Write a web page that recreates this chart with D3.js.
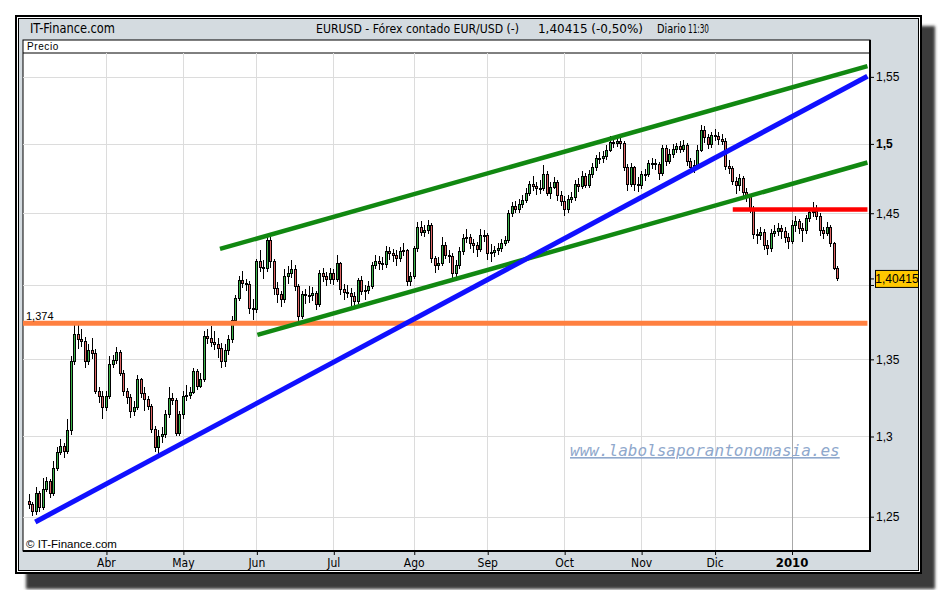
<!DOCTYPE html>
<html>
<head>
<meta charset="utf-8">
<script src="https://cdn.jsdelivr.net/npm/d3@7"></script>
<style>
    body { margin: 0; background: #fff; }
    svg text { font-family: "Liberation Sans", Arial, sans-serif; }
    .narrow { font-family: "Liberation Sans Narrow", "Arial Narrow", "DejaVu Sans", sans-serif; font-stretch: condensed; }
</style>
</head>
<body>
<div id="chart"></div>
<script>
// EURUSD daily candles, 2 Mar 2009 .. 21 Jan 2010 (weekdays)
const startDate = '2009-03-02';
const endDate = '2010-01-21';
const holidays = ['2009-12-25', '2010-01-01'];
const firstOpen = 1.2595;

const closes = [
    1.2575, 1.2530, 1.2640, 1.2555, 1.2665, 1.2720, 1.2640, 1.2800, 1.2900, 1.2935,
    1.2905, 1.3040, 1.3485, 1.3662, 1.3629, 1.3620, 1.3485, 1.3560, 1.3540, 1.3288,
    1.3255, 1.3187, 1.3255, 1.3463, 1.3492, 1.3545, 1.3408, 1.3288, 1.3250, 1.3159,
    1.3187, 1.3369, 1.3277, 1.3235, 1.3191, 1.3046, 1.2931, 1.3000, 1.3013, 1.3138,
    1.3245, 1.3230, 1.3020, 1.3138, 1.3259, 1.3266, 1.3281, 1.3419, 1.3322, 1.3370,
    1.3650, 1.3635, 1.3610, 1.3600, 1.3575, 1.3485, 1.3560, 1.3629, 1.3762, 1.3911,
    1.4034, 1.4012, 1.4005, 1.3842, 1.3830, 1.4160, 1.4120, 1.4110, 1.4311, 1.4160,
    1.3973, 1.3932, 1.3902, 1.4057, 1.4080, 1.4107, 1.3988, 1.3785, 1.3932, 1.3925,
    1.3930, 1.3945, 1.3864, 1.4076, 1.4060, 1.4040, 1.4080, 1.4040, 1.4149, 1.3966,
    1.3950, 1.3945, 1.3920, 1.3886, 1.4029, 1.3956, 1.3960, 1.3990, 1.4137, 1.4165,
    1.4150, 1.4140, 1.4230, 1.4215, 1.4205, 1.4185, 1.4230, 1.4240, 1.4022, 1.4060,
    1.4252, 1.4401, 1.4366, 1.4380, 1.4410, 1.4184, 1.4137, 1.4150, 1.4273, 1.4206,
    1.4195, 1.4080, 1.4137, 1.4229, 1.4322, 1.4330, 1.4287, 1.4270, 1.4245, 1.4346,
    1.4340, 1.4218, 1.4225, 1.4235, 1.4250, 1.4290, 1.4310, 1.4495, 1.4545, 1.4530,
    1.4560, 1.4590, 1.4640, 1.4705, 1.4690, 1.4675, 1.4680, 1.4780, 1.4640, 1.4685,
    1.4720, 1.4625, 1.4585, 1.4530, 1.4600, 1.4610, 1.4705, 1.4690, 1.4760, 1.4700,
    1.4775, 1.4825, 1.4890, 1.4895, 1.4905, 1.4955, 1.5010, 1.5005, 1.5015, 1.5000,
    1.4830, 1.4705, 1.4830, 1.4705, 1.4700, 1.4774, 1.4780, 1.4855, 1.4860, 1.4850,
    1.4785, 1.4965, 1.4870, 1.4920, 1.4960, 1.4980, 1.4960, 1.4990, 1.4870, 1.4830,
    1.4840, 1.4955, 1.5100, 1.5045, 1.4993, 1.5060, 1.5055, 1.5030, 1.5020, 1.4835,
    1.4820, 1.4730, 1.4700, 1.4745, 1.4645, 1.4620, 1.4528, 1.4347, 1.4340, 1.4365,
    1.4270, 1.4252, 1.4358, 1.4370, 1.4390, 1.4370, 1.4330, 1.4300, 1.4415, 1.4440,
    1.4395, 1.4380, 1.4460, 1.4505, 1.4510, 1.4480, 1.4380, 1.4360, 1.4400, 1.4285,
    1.4115, 1.40415
];

const highs = [
    1.2640, 1.2590, 1.2685, 1.2660, 1.2740, 1.2745, 1.2735, 1.2845, 1.2935, 1.2985,
    1.2960, 1.3110, 1.3520, 1.3740, 1.3735, 1.3700, 1.3650, 1.3600, 1.3640, 1.3570,
    1.3320, 1.3290, 1.3290, 1.3520, 1.3530, 1.3585, 1.3560, 1.3430, 1.3310, 1.3270,
    1.3230, 1.3400, 1.3380, 1.3320, 1.3260, 1.3210, 1.3070, 1.3040, 1.3060, 1.3170,
    1.3320, 1.3280, 1.3245, 1.3160, 1.3290, 1.3330, 1.3320, 1.3440, 1.3435, 1.3410,
    1.3690, 1.3700, 1.3720, 1.3690, 1.3640, 1.3610, 1.3600, 1.3660, 1.3790, 1.3930,
    1.4060, 1.4095, 1.4040, 1.4030, 1.3905, 1.4180, 1.4240, 1.4170, 1.4340, 1.4330,
    1.4180, 1.4020, 1.3960, 1.4110, 1.4130, 1.4170, 1.4140, 1.4010, 1.3960, 1.3975,
    1.3990, 1.3985, 1.3960, 1.4100, 1.4120, 1.4090, 1.4120, 1.4110, 1.4210, 1.4160,
    1.4010, 1.4000, 1.3980, 1.3950, 1.4050, 1.4060, 1.4000, 1.4030, 1.4160, 1.4210,
    1.4200, 1.4190, 1.4270, 1.4260, 1.4250, 1.4240, 1.4265, 1.4290, 1.4250, 1.4090,
    1.4270, 1.4440, 1.4445, 1.4420, 1.4450, 1.4430, 1.4200, 1.4190, 1.4330, 1.4300,
    1.4240, 1.4220, 1.4170, 1.4260, 1.4350, 1.4390, 1.4350, 1.4320, 1.4300, 1.4390,
    1.4380, 1.4360, 1.4280, 1.4270, 1.4290, 1.4320, 1.4340, 1.4520, 1.4580, 1.4590,
    1.4600, 1.4630, 1.4680, 1.4730, 1.4770, 1.4720, 1.4740, 1.4845, 1.4800, 1.4720,
    1.4760, 1.4740, 1.4660, 1.4620, 1.4630, 1.4650, 1.4740, 1.4750, 1.4800, 1.4790,
    1.4810, 1.4860, 1.4920, 1.4940, 1.4950, 1.4990, 1.5060, 1.5050, 1.5060, 1.5040,
    1.5020, 1.4850, 1.4860, 1.4840, 1.4760, 1.4800, 1.4820, 1.4880, 1.4900, 1.4890,
    1.4870, 1.4990, 1.4990, 1.4960, 1.5000, 1.5010, 1.5020, 1.5030, 1.5010, 1.4900,
    1.4880, 1.4990, 1.5140, 1.5130, 1.5070, 1.5090, 1.5110, 1.5090, 1.5070, 1.5040,
    1.4880, 1.4840, 1.4760, 1.4780, 1.4770, 1.4680, 1.4640, 1.4550, 1.4390, 1.4400,
    1.4390, 1.4310, 1.4390, 1.4420, 1.4430, 1.4420, 1.4400, 1.4360, 1.4450, 1.4480,
    1.4460, 1.4430, 1.4490, 1.4540, 1.4580, 1.4560, 1.4500, 1.4400, 1.4440, 1.4420,
    1.4300, 1.4130
];

const lows = [
    1.2545, 1.2505, 1.2510, 1.2530, 1.2540, 1.2650, 1.2615, 1.2630, 1.2780, 1.2880,
    1.2865, 1.2890, 1.3010, 1.3460, 1.3570, 1.3580, 1.3440, 1.3460, 1.3500, 1.3270,
    1.3215, 1.3110, 1.3160, 1.3240, 1.3440, 1.3470, 1.3390, 1.3260, 1.3210, 1.3120,
    1.3130, 1.3170, 1.3250, 1.3160, 1.3170, 1.3020, 1.2900, 1.2890, 1.2960, 1.2990,
    1.3120, 1.3200, 1.3000, 1.3000, 1.3110, 1.3230, 1.3240, 1.3270, 1.3300, 1.3310,
    1.3350, 1.3600, 1.3580, 1.3560, 1.3510, 1.3440, 1.3450, 1.3530, 1.3610, 1.3740,
    1.3890, 1.3980, 1.3960, 1.3800, 1.3760, 1.3810, 1.4090, 1.4040, 1.4090, 1.4120,
    1.3930, 1.3880, 1.3850, 1.3880, 1.4010, 1.4050, 1.3960, 1.3750, 1.3770, 1.3870,
    1.3880, 1.3890, 1.3830, 1.3850, 1.4020, 1.3990, 1.4010, 1.4000, 1.4020, 1.3930,
    1.3900, 1.3910, 1.3860, 1.3840, 1.3870, 1.3930, 1.3900, 1.3940, 1.3970, 1.4110,
    1.4100, 1.4100, 1.4120, 1.4170, 1.4160, 1.4130, 1.4160, 1.4200, 1.3990, 1.3990,
    1.4040, 1.4230, 1.4340, 1.4330, 1.4350, 1.4150, 1.4080, 1.4100, 1.4130, 1.4180,
    1.4150, 1.4050, 1.4030, 1.4110, 1.4210, 1.4290, 1.4250, 1.4220, 1.4190, 1.4230,
    1.4300, 1.4170, 1.4160, 1.4190, 1.4210, 1.4230, 1.4270, 1.4290, 1.4470, 1.4500,
    1.4500, 1.4540, 1.4570, 1.4620, 1.4660, 1.4630, 1.4640, 1.4660, 1.4620, 1.4600,
    1.4670, 1.4590, 1.4550, 1.4480, 1.4500, 1.4570, 1.4590, 1.4650, 1.4670, 1.4680,
    1.4680, 1.4750, 1.4800, 1.4850, 1.4860, 1.4880, 1.4940, 1.4970, 1.4980, 1.4960,
    1.4800, 1.4660, 1.4690, 1.4660, 1.4650, 1.4670, 1.4730, 1.4760, 1.4820, 1.4810,
    1.4740, 1.4770, 1.4840, 1.4850, 1.4900, 1.4930, 1.4930, 1.4940, 1.4840, 1.4800,
    1.4790, 1.4820, 1.4940, 1.5010, 1.4960, 1.4970, 1.5020, 1.4990, 1.4990, 1.4810,
    1.4780, 1.4700, 1.4640, 1.4660, 1.4610, 1.4580, 1.4500, 1.4320, 1.4280, 1.4310,
    1.4240, 1.4210, 1.4230, 1.4330, 1.4340, 1.4320, 1.4290, 1.4250, 1.4280, 1.4370,
    1.4350, 1.4300, 1.4350, 1.4440, 1.4470, 1.4450, 1.4340, 1.4320, 1.4340, 1.4260,
    1.4100, 1.4030
];

// y axis ticks and Spanish month labels
const priceTicks = [1.25, 1.3, 1.35, 1.4, 1.45, 1.5, 1.55];
const monthNames = ['Ene', 'Feb', 'Mar', 'Abr', 'May', 'Jun', 'Jul', 'Ago', 'Sep', 'Oct', 'Nov', 'Dic'];

// drawn studies: [bar index, price] end points
const blueLine = [[1.8, 1.2468], [239.7, 1.5505]];
const greenUpper = [[54.6, 1.4249], [239.7, 1.5582]];
const greenLower = [[65.3, 1.3662], [239.7, 1.4864]];
const redLine = [[201.2, 1.4527], [239.7, 1.4527]];
const supportLevel = 1.374;
const supportLine = [[-2, supportLevel], [239.7, supportLevel]];
const lastPrice = 1.40415;
const lastChange = -0.50;

// build trading days
const parse = d3.utcParse('%Y-%m-%d');
const fmtDay = d3.utcFormat('%Y-%m-%d');
const dates = d3.utcDay.range(parse(startDate), d3.utcDay.offset(parse(endDate), 1))
    .filter(d => d.getUTCDay() !== 0 && d.getUTCDay() !== 6 && !holidays.includes(fmtDay(d)));

const bars = dates.map((d, i) => ({
    i: i,
    date: d,
    open: i === 0 ? firstOpen : closes[i - 1],
    close: closes[i],
    high: highs[i],
    low: lows[i]
}));

const width = 940, height = 590;
const plot = { left: 23, right: 870, top: 53, bottom: 551, header: 40 };

// Spanish number style: decimal comma, plain hyphen minus
const esLocale = d3.formatLocale({ decimal: ',', thousands: '.', grouping: [3], currency: ['', ' €'], minus: '-' });
const fmt5 = esLocale.format('.5f');
const fmt2 = esLocale.format('.2f');

const svg = d3.select('#chart').append('svg')
    .attr('width', width)
    .attr('height', height);

const defs = svg.append('defs');
defs.append('filter').attr('id', 'blur')
    .append('feGaussianBlur').attr('stdDeviation', 1.4);
defs.append('clipPath').attr('id', 'plotClip')
    .append('rect')
    .attr('x', plot.left).attr('y', plot.top)
    .attr('width', plot.right - plot.left).attr('height', plot.bottom - plot.top);

// frame + shadow
svg.append('rect')
    .attr('x', 26).attr('y', 26).attr('width', 909).attr('height', 563)
    .attr('fill', '#3a3a3a')
    .attr('filter', 'url(#blur)');
svg.append('rect')
    .attr('x', 15).attr('y', 15).attr('width', 907).attr('height', 559)
    .attr('fill', '#000');
svg.append('rect')
    .attr('x', 17).attr('y', 17).attr('width', 903).attr('height', 555)
    .attr('fill', '#fff');
svg.append('rect')
    .attr('x', 18.5).attr('y', 18.5).attr('width', 900).attr('height', 552)
    .attr('fill', '#d4dbe0')
    .attr('stroke', '#000')
    .attr('stroke-width', 1);

// header texts (squeezed to the narrow face of the original)
const header = [
    { text: 'IT-Finance.com', x: 30, len: 85, size: 14 },
    { text: 'EURUSD - Fórex contado EUR/USD (-)', x: 316, len: 203, size: 13 },
    { text: fmt5(lastPrice) + ' (' + fmt2(lastChange) + '%)', x: 538, len: 105, size: 13 },
    { text: 'Diario', x: 657, len: 29, size: 12.5 },
    { text: '11:30', x: 688, len: 21, size: 12.5 }
];
svg.selectAll('.header')
    .data(header)
    .enter()
    .append('text')
    .attr('class', 'narrow')
    .attr('x', d => d.x)
    .attr('y', 33)
    .attr('textLength', d => d.len)
    .attr('lengthAdjust', 'spacingAndGlyphs')
    .style('font-size', d => d.size + 'px')
    .text(d => d.text);

// plot box
svg.append('rect')
    .attr('x', plot.left).attr('y', plot.header)
    .attr('width', plot.right - plot.left).attr('height', plot.bottom - plot.header)
    .attr('fill', '#fff')
    .attr('stroke', '#000')
    .attr('stroke-width', 1);
svg.append('line')
    .attr('x1', plot.left).attr('x2', plot.right)
    .attr('y1', plot.top).attr('y2', plot.top)
    .attr('stroke', '#000');
svg.append('text')
    .attr('x', 27).attr('y', 50)
    .style('font-size', '10px')
    .style('letter-spacing', '0.6px')
    .text('Precio');

// scales
const xScale = d3.scaleLinear()
    .domain([0, bars.length - 1])
    .range([29, 837]);

const yScale = d3.scaleLog()
    .domain([1.2292, 1.5682])
    .range([plot.bottom, plot.top]);

// month starts
const monthTicks = bars.filter((b, i) => i > 0 && b.date.getUTCMonth() !== bars[i - 1].date.getUTCMonth());
const monthLabel = b => b.date.getUTCMonth() === 0 ? String(b.date.getUTCFullYear()) : monthNames[b.date.getUTCMonth()];

const priceFmt = d => String(+d.toFixed(3)).replace('.', ',');

// grid
const grid = svg.append('g').attr('clip-path', 'url(#plotClip)');
grid.selectAll('.hgrid')
    .data(priceTicks)
    .enter()
    .append('line')
    .attr('x1', plot.left).attr('x2', plot.right)
    .attr('y1', d => Math.round(yScale(d)) + 0.5)
    .attr('y2', d => Math.round(yScale(d)) + 0.5)
    .attr('stroke', '#dcdcdc');
grid.selectAll('.vgrid')
    .data(monthTicks)
    .enter()
    .append('line')
    .attr('x1', d => Math.round(xScale(d.i)) + 0.5)
    .attr('x2', d => Math.round(xScale(d.i)) + 0.5)
    .attr('y1', plot.top).attr('y2', plot.bottom)
    .attr('stroke', d => d.date.getUTCMonth() === 0 ? '#a8a8a8' : '#dcdcdc');

// watermark
svg.append('text')
    .attr('x', 570).attr('y', 456)
    .style('font-family', '"DejaVu Sans Mono", "Liberation Mono", monospace')
    .style('font-style', 'italic')
    .style('font-size', '16px')
    .style('text-decoration', 'underline')
    .attr('fill', '#8fa8cc')
    .text('www.labolsaporantonomasia.es');

// candles
const candles = svg.append('g')
    .attr('clip-path', 'url(#plotClip)')
    .attr('shape-rendering', 'crispEdges');
const bodyW = 2.6;

candles.selectAll('.wick')
    .data(bars)
    .enter()
    .append('line')
    .attr('x1', d => Math.round(xScale(d.i)) + 0.5)
    .attr('x2', d => Math.round(xScale(d.i)) + 0.5)
    .attr('y1', d => yScale(d.high))
    .attr('y2', d => yScale(d.low))
    .attr('stroke', '#000')
    .attr('stroke-width', 1);

candles.selectAll('.body')
    .data(bars)
    .enter()
    .append('rect')
    .attr('x', d => Math.round(xScale(d.i)) - 1)
    .attr('y', d => yScale(Math.max(d.open, d.close)))
    .attr('width', bodyW)
    .attr('height', d => Math.max(1, Math.abs(yScale(d.open) - yScale(d.close))))
    .attr('fill', d => d.close >= d.open ? '#3cb44b' : '#e06666')
    .attr('stroke', '#000')
    .attr('stroke-width', 1);

// studies
const studyLine = d3.line()
    .x(d => xScale(d[0]))
    .y(d => yScale(d[1]));

const studies = svg.append('g').attr('clip-path', 'url(#plotClip)');
[
    { pts: supportLine, color: '#ff8040', w: 5 },
    { pts: greenUpper, color: '#118811', w: 4.5 },
    { pts: greenLower, color: '#118811', w: 4.5 },
    { pts: blueLine, color: '#1010ff', w: 5 },
    { pts: redLine, color: '#ff0000', w: 4.5 }
].forEach(s => {
    studies.append('path')
        .datum(s.pts)
        .attr('d', studyLine)
        .attr('fill', 'none')
        .attr('stroke', s.color)
        .attr('stroke-width', s.w);
});

svg.append('text')
    .attr('x', 26).attr('y', yScale(supportLevel) - 3)
    .style('font-size', '11px')
    .text(priceFmt(supportLevel));

svg.append('text')
    .attr('x', 26).attr('y', 548)
    .style('font-size', '11.5px')
    .text('© IT-Finance.com');

// heavier bottom and right border
svg.append('path')
    .attr('d', `M${plot.left},${plot.bottom}H${plot.right}V${plot.header}`)
    .attr('fill', 'none')
    .attr('stroke', '#000')
    .attr('stroke-width', 2);

// axes
const yAxis = d3.axisRight(yScale)
    .tickValues(priceTicks)
    .tickFormat(priceFmt)
    .tickSize(4)
    .tickPadding(2);

const yAxisG = svg.append('g')
    .attr('transform', `translate(${plot.right},0)`)
    .call(yAxis);
yAxisG.select('.domain').remove();
yAxisG.selectAll('text')
    .style('font-family', '"Liberation Sans", Arial, sans-serif')
    .style('font-size', '12px')
    .attr('fill', '#000')
    .style('font-weight', d => d === 1.5 ? 'bold' : 'normal');
// the 1,4 label sits under the last-price box
yAxisG.selectAll('.tick').filter(d => d === 1.4).select('text').remove();

const xAxis = d3.axisBottom(xScale)
    .tickValues(monthTicks.map(d => d.i))
    .tickFormat(i => monthLabel(bars[i]))
    .tickSize(4)
    .tickPadding(3);

const xAxisG = svg.append('g')
    .attr('transform', `translate(0,${plot.bottom})`)
    .call(xAxis);
xAxisG.select('.domain').remove();
xAxisG.selectAll('line').attr('transform', 'translate(0.5,0)');
xAxisG.selectAll('text')
    .attr('class', 'narrow')
    .style('font-family', '"Liberation Sans Narrow", "Arial Narrow", "DejaVu Sans", sans-serif')
    .style('font-stretch', 'condensed')
    .style('font-size', d => bars[d].date.getUTCMonth() === 0 ? '13px' : '12px')
    .style('font-weight', d => bars[d].date.getUTCMonth() === 0 ? 'bold' : 'normal')
    .attr('fill', '#000');

// last price marker
const lastY = yScale(lastPrice);
svg.append('line')
    .attr('x1', plot.right).attr('x2', plot.right + 4)
    .attr('y1', lastY).attr('y2', lastY)
    .attr('stroke', '#000');
svg.append('rect')
    .attr('x', 875.5).attr('y', lastY - 8.5)
    .attr('width', 43).attr('height', 17)
    .attr('fill', '#ffc800')
    .attr('stroke', '#000');
svg.append('text')
    .attr('x', 897).attr('y', lastY + 4.5)
    .attr('text-anchor', 'middle')
    .style('font-size', '12px')
    .text(fmt5(lastPrice));
</script>
</body>
</html>
